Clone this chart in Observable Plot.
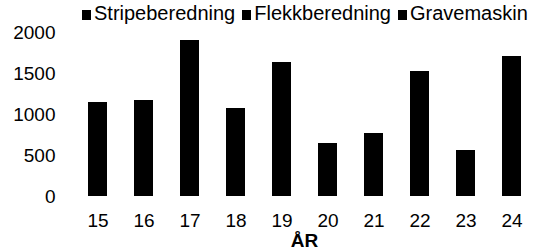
<!DOCTYPE html>
<html>
<head>
<meta charset="utf-8">
<script src="https://cdn.jsdelivr.net/npm/d3@7"></script>
<script src="https://cdn.jsdelivr.net/npm/@observablehq/plot@0.6"></script>
<style>
  html, body { margin: 0; padding: 0; background: #fff; }
  body { width: 537px; height: 249px; overflow: hidden; font-family: "Liberation Sans", Arial, sans-serif; }
  #legend { height: 20px; line-height: 20px; padding-top: 3px; font-size: 20px; color: #000; padding-left: 82px; white-space: nowrap; }
  #legend .item { display: inline-block; margin-right: 7px; }
  #legend .sw { display: inline-block; width: 9px; height: 10px; background: #000; margin-right: 3px; vertical-align: 0px; }
</style>
</head>
<body>
<div id="legend"></div>
<div id="chart"></div>
<script>
const years = ["15", "16", "17", "18", "19", "20", "21", "22", "23", "24"];
const series = ["Stripeberedning", "Flekkberedning", "Gravemaskin"];
const stripeberedning = [1010, 1120, 1860, 1040, 1600, 560, 690, 1500, 540, 1420];
const flekkberedning  = [90, 30, 25, 20, 20, 50, 50, 15, 10, 240];
const gravemaskin     = [50, 20, 15, 15, 15, 35, 30, 10, 10, 50];
const yTicks = [0, 500, 1000, 1500, 2000];
const xLabel = "ÅR";

const seriesValues = [stripeberedning, flekkberedning, gravemaskin];
const data = [];
series.forEach((s, si) => years.forEach((y, i) => data.push({year: y, series: s, value: seriesValues[si][i]})));

// legend
const legend = document.getElementById("legend");
series.forEach(s => {
  const it = document.createElement("span");
  it.className = "item";
  const sw = document.createElement("span");
  sw.className = "sw";
  it.appendChild(sw);
  it.appendChild(document.createTextNode(s));
  legend.appendChild(it);
});

const chart = Plot.plot({
  width: 537,
  height: 226,
  marginLeft: 72,
  marginRight: 1,
  marginTop: 9,
  marginBottom: 53,
  style: {fontFamily: "'Liberation Sans', Arial, sans-serif", fontSize: "19px", color: "#000", background: "#fff", overflow: "visible"},
  x: {domain: years, paddingInner: 0.59, paddingOuter: 0.295, label: null, tickSize: 0, tickPadding: 17},
  y: {domain: [0, 2000], ticks: yTicks, tickFormat: d => String(d), label: null, tickSize: 0, tickPadding: 17},
  color: {domain: series, range: ["#000", "#000", "#000"]},
  marks: [
    Plot.barY(data, Plot.stackY({x: "year", y: "value", fill: "series", order: series, shapeRendering: "crispEdges"})),
    Plot.text([xLabel], {frameAnchor: "bottom", text: d => d, dy: 50, lineAnchor: "bottom", fontWeight: "bold", fontSize: 19})
  ]
});
document.getElementById("chart").appendChild(chart);
</script>
</body>
</html>
